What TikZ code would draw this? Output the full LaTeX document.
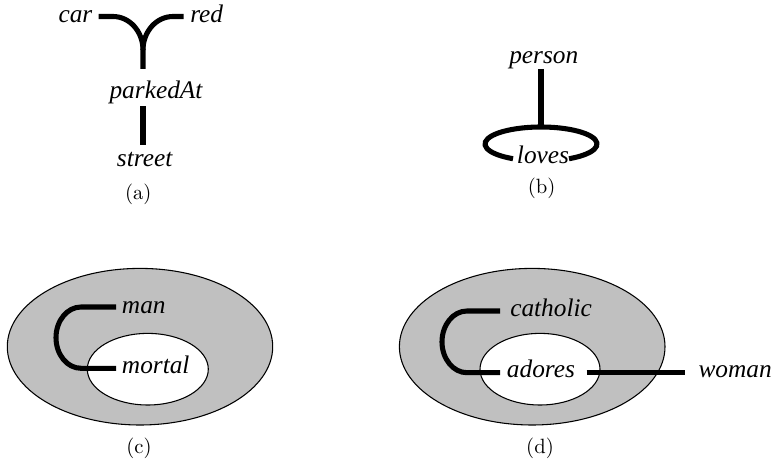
\documentclass[tikz,border=0pt]{standalone}
\usepackage{fontspec}
\usetikzlibrary{calc}
\newfontfamily\labelfont{Liberation Serif}
\newfontfamily\capfont{lmroman10-regular}[Extension=.otf]
\definecolor{regiongray}{RGB}{192,192,192}
\tikzset{
  term/.style={font=\labelfont\itshape\fontsize{19}{22}\selectfont, inner sep=0pt, anchor=base west},
  caption/.style={font=\capfont\fontsize{15.5}{18}\selectfont, inner sep=0pt},
  link/.style={line width=3.8pt, line cap=butt},
  region/.style={draw=black, line width=0.8pt, fill=regiongray},
  hole/.style={draw=black, line width=0.8pt, fill=white},
}
\begin{document}
\begin{tikzpicture}[x=0.75pt, y=-0.75pt]
\useasboundingbox (0,0) rectangle (771,466);

% ---------- (a) ----------
\node[term] (car) at (58.3,22.7) {car};
\node[term] (red) at (190,23) {red};
\node[term] (parked) at (109.3,99) {parkedAt};
\node[term] (street) at (116.7,166.7) {street};
\coordinate (carR) at (98.5,16.5);
\coordinate (redL) at (183.5,16.5);
\coordinate (joint) at (143,50);
\coordinate (stemA) at (143,69);
\coordinate (stemB) at (143,106.5);
\coordinate (stemC) at (143,145);
\draw[link] (carR) -- (113,16.5) .. controls (129.6,16.5) and (143,31.5) .. (joint) -- (stemA);
\draw[link] (redL) -- (173,16.5) .. controls (156.4,16.5) and (143,31.5) .. (joint);
\draw[link] (stemB) -- (stemC);
\node[caption] (capa) at (138.3,194) {(a)};

% ---------- (b) ----------
\node[term] (person) at (509,63.3) {person};
\node[term] (loves) at (516.7,164) {loves};
\coordinate (loopc) at (541,144);
\coordinate (loopTop) at (541,127);
\coordinate (personB) at (541,69);
\draw[link] (personB) -- (loopTop);
\draw[link] ($(loopc)+(-120:56 and -17)$) arc[start angle=-120, end angle=-420, x radius=56, y radius=-17];
\node[caption] (capb) at (541.7,188) {(b)};

% ---------- (c) ----------
\path[region] (140,346.7) ellipse [x radius=132.7, y radius=78.3];
\path[hole] (147.8,369.2) ellipse [x radius=60.5, y radius=35.8];
\node[term] (man) at (121.7,314) {man};
\node[term] (mortal) at (121.7,374) {mortal};
\coordinate (manL) at (116,307);
\coordinate (mortalL) at (116,368.3);
\draw[link] (manL) -- (81,307) arc[start angle=90, end angle=270, x radius=25, y radius=-30.65] -- (mortalL);
\node[caption] (capc) at (139,448) {(c)};

% ---------- (d) ----------
\path[region] (532.2,346.7) ellipse [x radius=132.8, y radius=78.3];
\path[hole] (540,369.2) ellipse [x radius=60, y radius=35.8];
\node[term] (catholic) at (510,317) {catholic};
\node[term] (adores) at (506.7,378) {adores};
\node[term] (woman) at (698.3,377.5) {woman};
\coordinate (catholicL) at (500,311);
\coordinate (adoresL) at (500,372.7);
\coordinate (adoresR) at (586.7,372.7);
\coordinate (womanL) at (685,372.7);
\draw[link] (catholicL) -- (467,311) arc[start angle=90, end angle=270, x radius=25, y radius=-30.85] -- (adoresL);
\draw[link] (adoresR) -- (womanL);
\node[caption] (capd) at (540,448) {(d)};
\end{tikzpicture}
\end{document}
